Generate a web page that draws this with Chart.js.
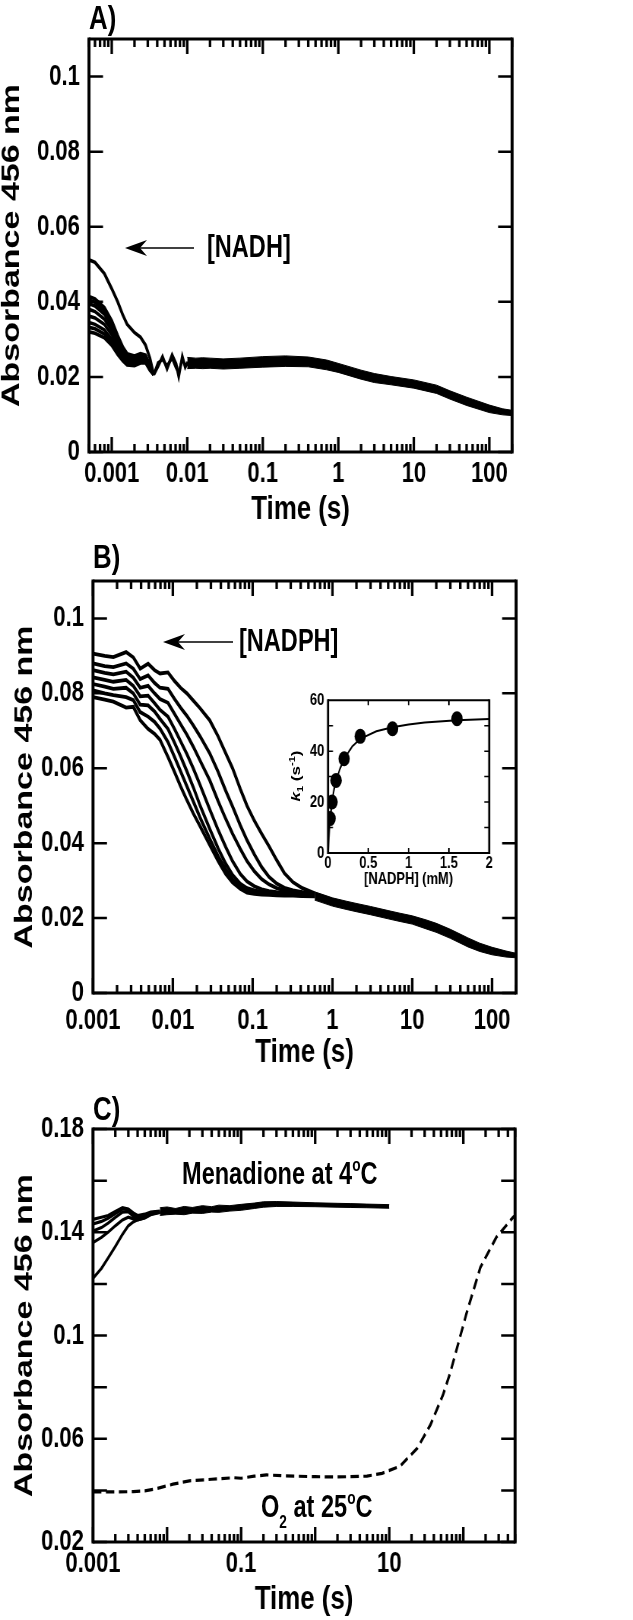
<!DOCTYPE html>
<html>
<head>
<meta charset="utf-8">
<script src="https://cdn.jsdelivr.net/npm/chart.js@4.4.1/dist/chart.umd.min.js"></script>
<style>
  html, body { margin: 0; padding: 0; background: #fff; }
  #page { position: relative; width: 633px; height: 1620px; overflow: hidden; }
  /* the original figure is squeezed horizontally, so every layer is drawn wide and scaled */
  .sq { position: absolute; transform: scaleX(0.76); transform-origin: 0 0; }
  .t { position: absolute; white-space: nowrap; line-height: 1; color: #000; font-weight: bold;
       font-family: "Liberation Sans", Arial, sans-serif; transform: scaleX(0.76); transform-origin: 0 0; }
  .sm { position: relative; font-size: 18px; }
  .rot { transform: translate(-50%, -50%) scaleX(0.76) rotate(-90deg); transform-origin: 50% 50%; }
</style>
</head>
<body>
<div id="page">
  <div class="sq" style="left:0;top:0;width:833px;height:530px"><canvas id="chartA"></canvas></div>
  <div class="sq" style="left:0;top:530px;width:833px;height:545px"><canvas id="chartB"></canvas></div>
  <div class="sq" style="left:0;top:1075px;width:833px;height:545px"><canvas id="chartC"></canvas></div>
  <div class="sq" style="left:300px;top:685px;width:270px;height:215px"><canvas id="chartInset"></canvas></div>

  <div class="t" style="left:89px;top:0px;font-size:34px">A)</div>
  <div class="t" style="left:93px;top:539px;font-size:34px">B)</div>
  <div class="t" style="left:93px;top:1091px;font-size:34px">C)</div>
  <div class="t" style="left:207px;top:231px;font-size:31px">[NADH]</div>
  <div class="t" style="left:239px;top:625px;font-size:31px">[NADPH]</div>
  <div class="t" style="left:182px;top:1158px;font-size:31px">Menadione at 4<span class="sm" style="top:-13px">o</span>C</div>
  <div class="t" style="left:261px;top:1491px;font-size:31px">O<span class="sm" style="top:11px">2</span> at 25<span class="sm" style="top:-13px">o</span>C</div>
  <div class="t rot" style="left:296px;top:776px;font-size:17px"><i>k</i><span style="position:relative;top:4px;font-size:11px">1</span> (s<span style="position:relative;top:-7px;font-size:11px">-1</span>)</div>

  <svg width="633" height="1620" style="position:absolute;left:0;top:0;pointer-events:none">
    <line x1="140" y1="248" x2="194" y2="248" stroke="#000" stroke-width="1.5"/>
    <path d="M125,248 L147,240 L140,248 L147,256 Z" fill="#000"/>
    <line x1="178" y1="642" x2="233" y2="642" stroke="#000" stroke-width="1.5"/>
    <path d="M163,642 L185,634 L178,642 L185,650 Z" fill="#000"/>
  </svg>
</div>

<script>
// ---- Panel A: NADH traces ----
const tEarlyA = [0.0005, 0.0006, 0.0008, 0.001, 0.0012, 0.0014, 0.0016, 0.002, 0.0024, 0.0028, 0.0032];
const nadhA1 = [0.0512, 0.0505, 0.0475, 0.0435, 0.0400, 0.0365, 0.0340, 0.0318, 0.0306, 0.0285, 0.0250];
const nadhA2 = [0.0414, 0.0408, 0.0385, 0.0350, 0.0310, 0.0280, 0.0262, 0.0256, 0.0262, 0.0258, 0.0232];
const nadhA3 = [0.0405, 0.0399, 0.0376, 0.0342, 0.0304, 0.0276, 0.0258, 0.0252, 0.0258, 0.0255, 0.0230];
const nadhA4 = [0.0395, 0.0389, 0.0367, 0.0335, 0.0298, 0.0271, 0.0254, 0.0248, 0.0254, 0.0252, 0.0228];
const nadhA5 = [0.0380, 0.0374, 0.0354, 0.0324, 0.0290, 0.0265, 0.0249, 0.0244, 0.0250, 0.0248, 0.0226];
const nadhA6 = [0.0362, 0.0357, 0.0340, 0.0312, 0.0281, 0.0258, 0.0244, 0.0240, 0.0246, 0.0245, 0.0224];
const nadhA7 = [0.0345, 0.0340, 0.0325, 0.0300, 0.0272, 0.0252, 0.0240, 0.0236, 0.0243, 0.0242, 0.0222];
const nadhA8 = [0.0332, 0.0328, 0.0314, 0.0292, 0.0266, 0.0247, 0.0236, 0.0233, 0.0240, 0.0240, 0.0220];
const nadhA9 = [0.0320, 0.0316, 0.0304, 0.0284, 0.0260, 0.0243, 0.0232, 0.0230, 0.0237, 0.0238, 0.0218];
const tWiggleA = [0.0036, 0.0041, 0.0047, 0.0054, 0.0063, 0.0071, 0.0077, 0.0086, 0.0094, 0.0102];
const nadhWiggle1 = [0.0206, 0.0228, 0.0254, 0.0222, 0.0258, 0.0235, 0.0202, 0.0254, 0.0226, 0.0240];
const nadhWiggle2 = [0.0206, 0.0238, 0.0246, 0.0230, 0.0250, 0.0224, 0.0212, 0.0246, 0.0232, 0.0236];
const tTailA = [0.01, 0.013, 0.016, 0.02, 0.03, 0.05, 0.1, 0.2, 0.4, 0.7, 1, 2, 3, 5, 10, 20, 30, 50, 100, 150, 200];
const nadhTailHi = [0.0252, 0.0250, 0.0251, 0.0250, 0.0248, 0.0250, 0.0254, 0.0256, 0.0253, 0.0245, 0.0236, 0.0218, 0.0209, 0.0201, 0.0192, 0.0178, 0.0163, 0.0146, 0.0125, 0.0115, 0.0111];
const nadhTailLo = [0.0222, 0.0223, 0.0222, 0.0223, 0.0221, 0.0223, 0.0226, 0.0228, 0.0227, 0.0219, 0.0212, 0.0194, 0.0185, 0.0179, 0.0170, 0.0156, 0.0141, 0.0124, 0.0105, 0.0099, 0.0097];

// ---- Panel B: NADPH traces ----
const tEarlyB = [0.001, 0.0014, 0.0018, 0.0026, 0.0032, 0.0039, 0.0049, 0.0059, 0.0069, 0.0087, 0.0105, 0.0125, 0.015, 0.018, 0.022, 0.029, 0.037, 0.046, 0.056, 0.07, 0.085, 0.105, 0.13, 0.16, 0.2, 0.25, 0.32, 0.42, 0.6];
const nadphB1 = [0.0906, 0.0900, 0.0897, 0.0910, 0.0896, 0.0866, 0.0879, 0.0862, 0.0853, 0.0856, 0.0833, 0.0815, 0.0800, 0.0781, 0.0760, 0.0728, 0.0685, 0.0640, 0.0600, 0.0545, 0.0500, 0.0460, 0.0425, 0.0392, 0.0355, 0.0320, 0.0296, 0.0280, 0.0266];
const nadphB2 = [0.0880, 0.0873, 0.0870, 0.0880, 0.0866, 0.0838, 0.0848, 0.0828, 0.0815, 0.0812, 0.0785, 0.0762, 0.0740, 0.0715, 0.0685, 0.0640, 0.0590, 0.0540, 0.0498, 0.0448, 0.0408, 0.0370, 0.0336, 0.0310, 0.0292, 0.0281, 0.0274, 0.0269, 0.0264];
const nadphB3 = [0.0862, 0.0855, 0.0851, 0.0858, 0.0842, 0.0815, 0.0820, 0.0800, 0.0785, 0.0775, 0.0745, 0.0718, 0.0690, 0.0658, 0.0620, 0.0568, 0.0512, 0.0465, 0.0425, 0.0385, 0.0352, 0.0325, 0.0304, 0.0290, 0.0280, 0.0274, 0.0270, 0.0266, 0.0262];
const nadphB4 = [0.0843, 0.0836, 0.0831, 0.0836, 0.0820, 0.0792, 0.0794, 0.0774, 0.0756, 0.0738, 0.0705, 0.0672, 0.0638, 0.0600, 0.0555, 0.0490, 0.0435, 0.0390, 0.0352, 0.0318, 0.0298, 0.0285, 0.0277, 0.0272, 0.0269, 0.0267, 0.0265, 0.0263, 0.0261];
const nadphB5 = [0.0825, 0.0818, 0.0812, 0.0815, 0.0800, 0.0770, 0.0768, 0.0752, 0.0732, 0.0705, 0.0668, 0.0632, 0.0592, 0.0550, 0.0500, 0.0438, 0.0386, 0.0345, 0.0315, 0.0292, 0.0280, 0.0274, 0.0270, 0.0268, 0.0266, 0.0264, 0.0263, 0.0261, 0.0260];
const nadphB6 = [0.0808, 0.0800, 0.0795, 0.0790, 0.0782, 0.0750, 0.0738, 0.0724, 0.0706, 0.0670, 0.0630, 0.0592, 0.0552, 0.0512, 0.0468, 0.0412, 0.0365, 0.0330, 0.0303, 0.0284, 0.0274, 0.0269, 0.0266, 0.0265, 0.0264, 0.0263, 0.0262, 0.0260, 0.0259];
const nadphB7 = [0.0790, 0.0783, 0.0778, 0.0762, 0.0764, 0.0728, 0.0705, 0.0692, 0.0676, 0.0630, 0.0590, 0.0552, 0.0515, 0.0480, 0.0445, 0.0395, 0.0352, 0.0318, 0.0295, 0.0278, 0.0268, 0.0265, 0.0263, 0.0262, 0.0261, 0.0260, 0.0260, 0.0259, 0.0258];
const tTailB = [0.6, 1, 1.5, 2, 3, 5, 7, 10, 15, 20, 30, 50, 70, 100, 150, 200];
const nadphTailHi = [0.0270, 0.0254, 0.0245, 0.0239, 0.0231, 0.0220, 0.0213, 0.0206, 0.0195, 0.0186, 0.0170, 0.0147, 0.0133, 0.0122, 0.0112, 0.0106];
const nadphTailLo = [0.0248, 0.0232, 0.0223, 0.0217, 0.0209, 0.0198, 0.0191, 0.0184, 0.0171, 0.0162, 0.0146, 0.0123, 0.0111, 0.0102, 0.0096, 0.0094];

// ---- Inset: k1 vs [NADPH] ----
const insetConc = [0.025, 0.05, 0.1, 0.2, 0.4, 0.8, 1.6];
const insetK1 = [13.5, 20, 28.5, 37, 45.8, 48.8, 52.7];
const fitConc = [0, 0.01, 0.025, 0.05, 0.075, 0.1, 0.15, 0.2, 0.3, 0.4, 0.6, 0.8, 1.0, 1.2, 1.6, 2.0];
const fitK1 = [0, 5.5, 12.8, 20.2, 25.0, 28.5, 33.2, 37.0, 41.8, 44.8, 47.8, 49.4, 50.5, 51.2, 52.1, 52.6];

// ---- Panel C: menadione (4 C) and O2 (25 C) ----
const tMenEarly = [0.001, 0.0013, 0.0016, 0.002, 0.0025, 0.003, 0.0035, 0.004, 0.005, 0.006, 0.008];
const menC1 = [0.1450, 0.1458, 0.1465, 0.1480, 0.1495, 0.1490, 0.1475, 0.1465, 0.1470, 0.1478, 0.1482];
const menC2 = [0.1432, 0.1442, 0.1454, 0.1472, 0.1490, 0.1488, 0.1470, 0.1460, 0.1466, 0.1475, 0.1480];
const menC3 = [0.1405, 0.1418, 0.1435, 0.1458, 0.1478, 0.1480, 0.1462, 0.1452, 0.1460, 0.1472, 0.1479];
const menC4 = [0.1360, 0.1380, 0.1400, 0.1425, 0.1448, 0.1458, 0.1452, 0.1448, 0.1456, 0.1470, 0.1478];
const menC5 = [0.1222, 0.1260, 0.1300, 0.1345, 0.1392, 0.1425, 0.1440, 0.1448, 0.1455, 0.1468, 0.1477];
const tMenTail = [0.008, 0.01, 0.013, 0.017, 0.022, 0.03, 0.04, 0.05, 0.07, 0.1, 0.15, 0.2, 0.3, 0.5, 1, 2, 3, 5, 7, 10];
const menTailHi = [0.1495, 0.1498, 0.1492, 0.1500, 0.1496, 0.1503, 0.1499, 0.1505, 0.1503, 0.1508, 0.1513, 0.1518, 0.1519, 0.1517, 0.1514, 0.1512, 0.1511, 0.1509, 0.1508, 0.1507];
const menTailLo = [0.1465, 0.1468, 0.1470, 0.1468, 0.1474, 0.1473, 0.1478, 0.1477, 0.1482, 0.1485, 0.1492, 0.1497, 0.1500, 0.1500, 0.1499, 0.1497, 0.1496, 0.1495, 0.1494, 0.1493];
const tO2 = [0.001, 0.002, 0.0035, 0.005, 0.0073, 0.012, 0.02, 0.04, 0.08, 0.1, 0.15, 0.22, 0.4, 1, 2, 5, 8, 14, 24, 36, 53, 66, 110, 170, 280, 470, 500];
const o2C = [0.0394, 0.0394, 0.0395, 0.0398, 0.0407, 0.0424, 0.0437, 0.0443, 0.0449, 0.0447, 0.0455, 0.0460, 0.0456, 0.0453, 0.0452, 0.0455, 0.0466, 0.0494, 0.0564, 0.0654, 0.0769, 0.0852, 0.1084, 0.1264, 0.1381, 0.1458, 0.1465];

// ---- tick labels ----
const xTickValsAB = [0.001, 0.01, 0.1, 1, 10, 100];
const xTickTextAB = ['0.001', '0.01', '0.1', '1', '10', '100'];
const xTickValsC = [0.001, 0.1, 10];
const xTickTextC = ['0.001', '0.1', '10'];
const xDecadesC = [0.001, 0.01, 0.1, 1, 10, 100];
const yTickValsAB = [0, 0.02, 0.04, 0.06, 0.08, 0.1];
const yTickTextAB = ['0', '0.02', '0.04', '0.06', '0.08', '0.1'];
const yTickValsC = [0.02, 0.06, 0.1, 0.14, 0.18];
const yTickTextC = ['0.02', '0.06', '0.1', '0.14', '0.18'];
const yMarksC = [0.02, 0.04, 0.06, 0.08, 0.1, 0.12, 0.14, 0.16, 0.18];
const xTickValsIn = [0, 0.5, 1, 1.5, 2];
const xTickTextIn = ['0', '0.5', '1', '1.5', '2'];
const yTickValsIn = [0, 20, 40, 60];
const yTickTextIn = ['0', '20', '40', '60'];

Chart.defaults.font.family = '"Liberation Sans", Arial, sans-serif';
Chart.defaults.font.weight = 'bold';
Chart.defaults.color = '#000';

const SQ = 0.76; // horizontal squeeze applied to every canvas

const pts = (xs, ys) => xs.map((x, i) => ({ x: x, y: ys[i] }));

function line(data, w, extra) {
  return Object.assign({ data: data, borderColor: '#000', backgroundColor: '#000', borderWidth: w,
    pointRadius: 0, tension: 0, fill: false }, extra || {});
}

// minor ticks 2..9 of each decade
function logMinors(min, max) {
  const out = [];
  for (let e = -4; e <= 2; e++) {
    for (let m = 2; m <= 9; m++) {
      const v = +(m * Math.pow(10, e)).toPrecision(3);
      if (v >= min && v <= max) out.push(v);
    }
  }
  return out;
}

// frame box with inward ticks on all four sides
function frameTicks(cfg) {
  return {
    id: 'frameTicks',
    afterDatasetsDraw(chart) {
      const ctx = chart.ctx, a = chart.chartArea, xs = chart.scales.x, ys = chart.scales.y;
      ctx.save();
      ctx.strokeStyle = '#000';
      // vertical strokes are thinned by the squeeze, so draw them wider
      ctx.lineWidth = cfg.tick / SQ;
      ctx.beginPath();
      const vx = (list, len) => list.forEach(v => {
        const p = xs.getPixelForValue(v);
        if (p < a.left - 0.5 || p > a.right + 0.5) return;
        ctx.moveTo(p, a.bottom); ctx.lineTo(p, a.bottom - len);
        ctx.moveTo(p, a.top); ctx.lineTo(p, a.top + len);
      });
      vx(cfg.xMajor, cfg.xMajorLen);
      vx(cfg.xMinor || [], cfg.xMinorLen || 0);
      ctx.stroke();
      ctx.lineWidth = cfg.tick;
      ctx.beginPath();
      cfg.yMajor.forEach(v => {
        const p = ys.getPixelForValue(v);
        if (p < a.top - 0.5 || p > a.bottom + 0.5) return;
        ctx.moveTo(a.left, p); ctx.lineTo(a.left + cfg.yMajorLen / SQ, p);
        ctx.moveTo(a.right, p); ctx.lineTo(a.right - cfg.yMajorLen / SQ, p);
      });
      ctx.stroke();
      ctx.lineWidth = cfg.frame / SQ;
      ctx.beginPath();
      ctx.moveTo(a.left, a.top - cfg.frame / 2); ctx.lineTo(a.left, a.bottom + cfg.frame / 2);
      ctx.moveTo(a.right, a.top - cfg.frame / 2); ctx.lineTo(a.right, a.bottom + cfg.frame / 2);
      ctx.stroke();
      ctx.lineWidth = cfg.frame;
      ctx.beginPath();
      ctx.moveTo(a.left, a.top); ctx.lineTo(a.right, a.top);
      ctx.moveTo(a.left, a.bottom); ctx.lineTo(a.right, a.bottom);
      ctx.stroke();
      ctx.restore();
    }
  };
}

function timeAxis(min, max, vals, texts, pad, titlePad, height) {
  return {
    type: 'logarithmic', min: min, max: max,
    grid: { display: false, drawTicks: false },
    border: { display: false },
    afterBuildTicks: s => { s.ticks = vals.map(v => ({ value: v })); },
    afterFit: s => { s.height = height; },
    ticks: { autoSkip: false, maxRotation: 0, padding: pad, font: { size: 29 },
             callback: (v, i) => texts[i] },
    title: { display: true, text: 'Time (s)', font: { size: 34, lineHeight: 1 },
             padding: { top: 0, bottom: titlePad } }
  };
}

function absAxis(min, max, vals, texts, titleTop, pageWidth) {
  return {
    type: 'linear', min: min, max: max,
    grid: { display: false, drawTicks: false },
    border: { display: false },
    afterBuildTicks: s => { s.ticks = vals.map(v => ({ value: v })); },
    afterFit: s => { s.width = pageWidth / SQ; },
    ticks: { padding: 12, font: { size: 29 }, callback: (v, i) => texts[i] },
    title: { display: true, text: 'Absorbance 456 nm',
             font: { size: 34, lineHeight: 1 }, padding: { top: titleTop, bottom: 0 } }
  };
}

function baseOptions(top, rightPage, scales) {
  return {
    animation: false, responsive: true, maintainAspectRatio: false,
    layout: { padding: { top: top, right: rightPage / SQ, left: 0, bottom: 0 } },
    plugins: { legend: { display: false }, tooltip: { enabled: false } },
    scales: scales
  };
}

// Panel A
const earlyA = [nadhA1, nadhA2, nadhA3, nadhA4, nadhA5, nadhA6, nadhA7, nadhA8, nadhA9];
const wigA = pts(tWiggleA, nadhWiggle1);
const dsA = earlyA.map(arr => line(pts(tEarlyA, arr).concat([wigA[0]]), 3.6));
dsA.push(line(wigA, 3.6));
dsA.push(line(pts(tWiggleA, nadhWiggle2), 3.2));
dsA.push(line(pts(tTailA, nadhTailHi), 1, { fill: '+1' }));
dsA.push(line(pts(tTailA, nadhTailLo), 1));
new Chart(document.getElementById('chartA'), {
  type: 'line',
  data: { datasets: dsA },
  options: baseOptions(39, 121, {
    x: timeAxis(0.0005, 200, xTickValsAB, xTickTextAB, 5, 3, 78),
    y: absAxis(0, 0.11, yTickValsAB, yTickTextAB, -1, 89)
  }),
  plugins: [frameTicks({ xMajor: xTickValsAB, xMinor: logMinors(0.0005, 200), xMajorLen: 15, xMinorLen: 8,
    yMajor: yTickValsAB, yMajorLen: 14, tick: 2.5, frame: 3 })]
});

// Panel B
const earlyB = [nadphB1, nadphB2, nadphB3, nadphB4, nadphB5, nadphB6, nadphB7];
const dsB = earlyB.map(arr => line(pts(tEarlyB, arr), 3.8));
dsB.push(line(pts(tTailB, nadphTailHi), 1, { fill: '+1' }));
dsB.push(line(pts(tTailB, nadphTailLo), 1));
new Chart(document.getElementById('chartB'), {
  type: 'line',
  data: { datasets: dsB },
  options: baseOptions(51, 117, {
    x: timeAxis(0.001, 200, xTickValsAB, xTickTextAB, 11, 5, 82),
    y: absAxis(0, 0.11, yTickValsAB, yTickTextAB, 16, 93)
  }),
  plugins: [frameTicks({ xMajor: xTickValsAB, xMinor: logMinors(0.001, 200), xMajorLen: 15, xMinorLen: 8,
    yMajor: yTickValsAB, yMajorLen: 14, tick: 2.5, frame: 3 })]
});

// Inset
new Chart(document.getElementById('chartInset'), {
  type: 'line',
  data: { datasets: [
    line(pts(fitConc, fitK1), 2),
    line(pts(insetConc, insetK1), 0, { showLine: false, pointRadius: 7.5, pointBackgroundColor: '#000', pointBorderWidth: 0 })
  ] },
  options: baseOptions(12, 16, {
    x: {
      type: 'linear', min: 0, max: 2,
      grid: { display: false, drawTicks: false }, border: { display: false },
      afterBuildTicks: s => { s.ticks = xTickValsIn.map(v => ({ value: v })); },
      afterFit: s => { s.height = 47; },
      ticks: { autoSkip: false, maxRotation: 0, padding: 0, font: { size: 17 }, callback: (v, i) => xTickTextIn[i] },
      title: { display: true, text: '[NADPH] (mM)', font: { size: 17, lineHeight: 1 }, padding: { top: 0, bottom: 12 } }
    },
    y: {
      type: 'linear', min: 0, max: 60,
      grid: { display: false, drawTicks: false }, border: { display: false },
      afterBuildTicks: s => { s.ticks = yTickValsIn.map(v => ({ value: v })); },
      afterFit: s => { s.width = 28 / SQ; },
      ticks: { padding: 5, font: { size: 17 }, callback: (v, i) => yTickTextIn[i] }
    }
  }),
  plugins: [frameTicks({ xMajor: [0.5, 1, 1.5], xMajorLen: 5, yMajor: [10, 20, 30, 40, 50], yMajorLen: 5,
    tick: 1.5, frame: 2 })]
});

// Panel C
const earlyC = [menC1, menC2, menC3, menC4, menC5];
const dsC = earlyC.map(arr => line(pts(tMenEarly, arr), 3.2));
dsC.push(line(pts(tMenTail, menTailHi), 1, { fill: '+1' }));
dsC.push(line(pts(tMenTail, menTailLo), 1));
dsC.push(line(pts(tO2, o2C), 3.2, { borderDash: [11, 6] }));
new Chart(document.getElementById('chartC'), {
  type: 'line',
  data: { datasets: dsC },
  options: baseOptions(54, 118, {
    x: timeAxis(0.001, 500, xTickValsC, xTickTextC, 5, 3, 78),
    y: absAxis(0.02, 0.18, yTickValsC, yTickTextC, 16, 93)
  }),
  plugins: [frameTicks({ xMajor: xDecadesC, xMinor: logMinors(0.001, 500), xMajorLen: 15, xMinorLen: 8,
    yMajor: yMarksC, yMajorLen: 14, tick: 2.5, frame: 3 })]
});
</script>
</body>
</html>
